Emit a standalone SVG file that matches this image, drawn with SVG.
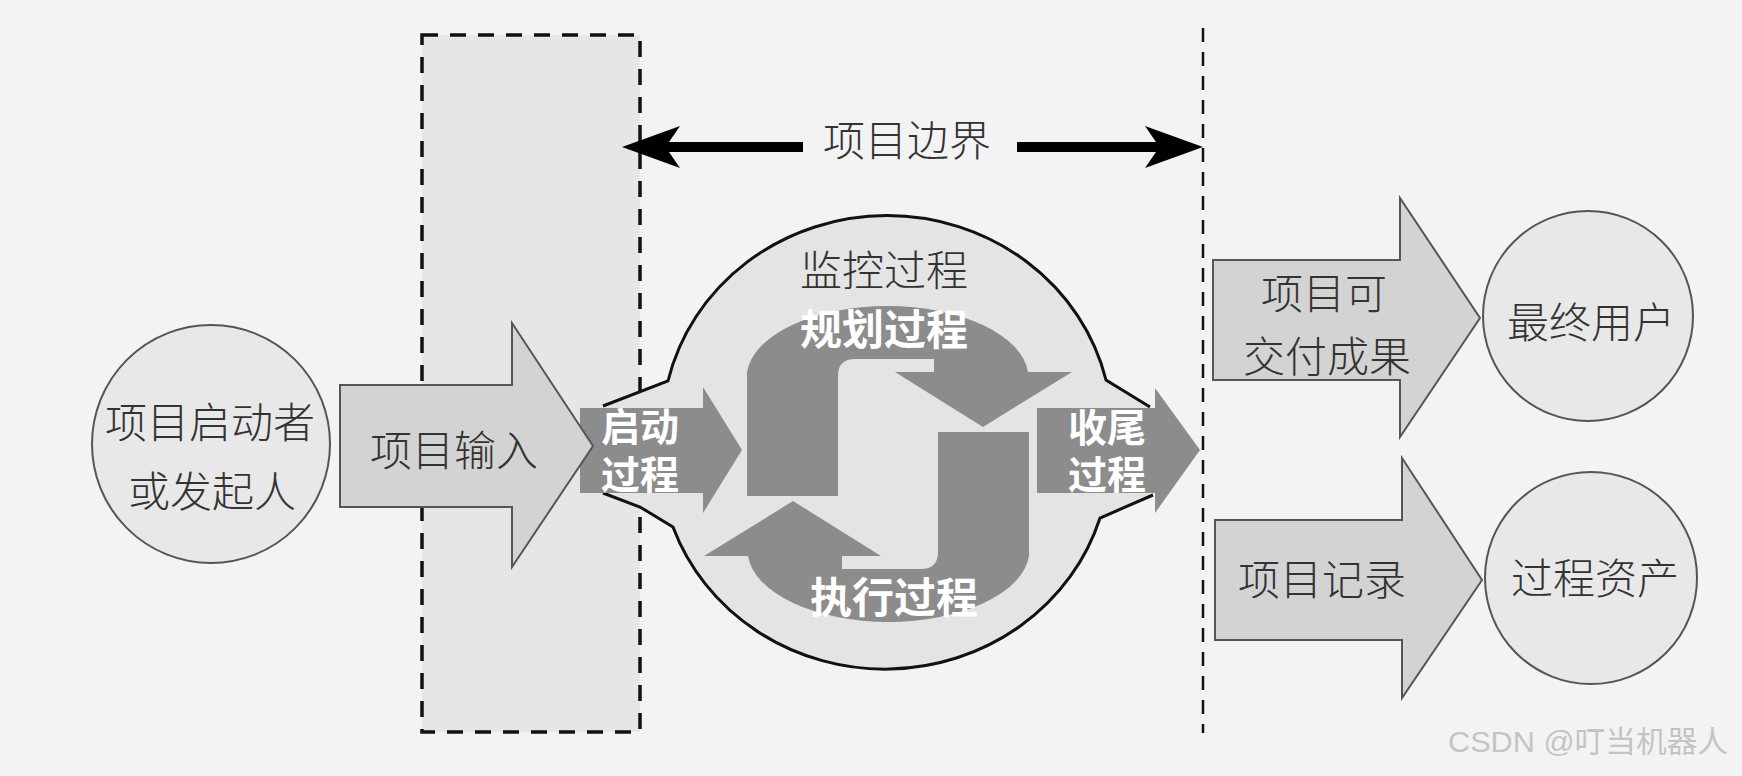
<svg xmlns="http://www.w3.org/2000/svg" width="1742" height="776" viewBox="0 0 1742 776">
<style>
.t{font-family:"Noto Sans CJK SC","Noto Sans",sans-serif;font-size:42px;fill:#333;text-anchor:middle;font-weight:300}
.w{font-family:"Noto Sans CJK SC","Noto Sans",sans-serif;font-size:42px;fill:#fff;font-weight:bold;text-anchor:middle}
.w40{font-size:39px}
.lt{fill:#d3d3d3;stroke:#555;stroke-width:2;stroke-linejoin:miter}
.dk{fill:#8c8c8c}
.circ{fill:#e8e8e8;stroke:#555;stroke-width:2}
</style>
<rect x="0" y="0" width="1742" height="776" fill="#f3f3f3"/>

<g id="scope-box">
<rect x="422" y="35" width="218" height="697" fill="#e6e6e6" stroke="#111" stroke-width="3.5" stroke-dasharray="16 12"/>
</g>

<g id="monitor-blob">
<path d="M603 406 L668 381 A225 214 0 0 1 1106 380 L1150 407 L1153 495 L1100 518 A225 214 0 0 1 673 527 L640 507 L603 493 Z" fill="#e4e4e4"/>
<path d="M603 406 L668 381 A225 214 0 0 1 1106 380 L1150 407" fill="none" stroke="#111" stroke-width="3"/>
<path d="M1153 495 L1100 518 A225 214 0 0 1 673 527 L640 507 L603 493" fill="none" stroke="#111" stroke-width="3"/>
<text class="t" x="884" y="286">监控过程</text>
</g>

<g id="cycle">
<path class="dk" d="M747 496 L747 372 A141 72 0 0 1 1028 372 L1072 372 L983 427 L895 372 L934 372 L934 359 L855 359 Q838 359 838 376 L838 496 Z"/>
<path class="dk" transform="rotate(180 888 464)" d="M747 496 L747 372 A141 72 0 0 1 1028 372 L1072 372 L983 427 L895 372 L934 372 L934 359 L855 359 Q838 359 838 376 L838 496 Z"/>
<text class="w" x="884" y="345">规划过程</text>
<text class="w" x="894" y="613">执行过程</text>
</g>

<g id="initiating">
<polygon class="dk" points="580,408 703,408 703,387 742,450 703,513 703,493 580,493"/>
<text class="w w40"><tspan x="640" y="441">启动</tspan><tspan x="640" y="489">过程</tspan></text>
</g>

<g id="closing">
<polygon class="dk" points="1037,408 1155,408 1155,388 1200,450 1155,513 1155,493 1037,493"/>
<text class="w w40"><tspan x="1107" y="442">收尾</tspan><tspan x="1107" y="489">过程</tspan></text>
</g>

<g id="project-input">
<polygon class="lt" points="340,385 512,385 512,323 593,446 512,567 512,507 340,507"/>
<text class="t" x="454" y="466">项目输入</text>
</g>

<g id="sponsor">
<circle class="circ" cx="211" cy="444" r="119"/>
<text class="t"><tspan x="210" y="438">项目启动者</tspan><tspan x="212" y="507">或发起人</tspan></text>
</g>

<g id="deliverables">
<polygon class="lt" points="1213,260 1400,260 1400,198 1480,318 1400,437 1400,380 1213,380"/>
<text class="t"><tspan x="1324" y="309">项目可</tspan><tspan x="1327" y="372">交付成果</tspan></text>
</g>

<g id="end-users">
<circle class="circ" cx="1588" cy="316" r="105"/>
<text class="t" x="1591" y="338">最终用户</text>
</g>

<g id="records">
<polygon class="lt" points="1215,520 1402,520 1402,458 1482,580 1402,698 1402,640 1215,640"/>
<text class="t" x="1322" y="595">项目记录</text>
</g>

<g id="process-assets">
<circle class="circ" cx="1591" cy="578" r="106"/>
<text class="t" x="1595" y="594">过程资产</text>
</g>

<g id="connectors">
<line x1="1203" y1="28" x2="1203" y2="733" stroke="#111" stroke-width="2.5" stroke-dasharray="14 10"/>
<polygon points="622,147 680,126 669,142 803,142 803,152 669,152 680,168" fill="#000"/>
<polygon points="1203,147 1145,126 1156,142 1017,142 1017,152 1156,152 1145,168" fill="#000"/>
<text class="t" x="907" y="156">项目边界</text>
</g>

<text x="1448" y="752" font-family="Liberation Sans,'Noto Sans CJK SC',sans-serif" font-size="30" fill="#c4c4c4" textLength="280" lengthAdjust="spacingAndGlyphs">CSDN @叮当机器人</text>
</svg>
